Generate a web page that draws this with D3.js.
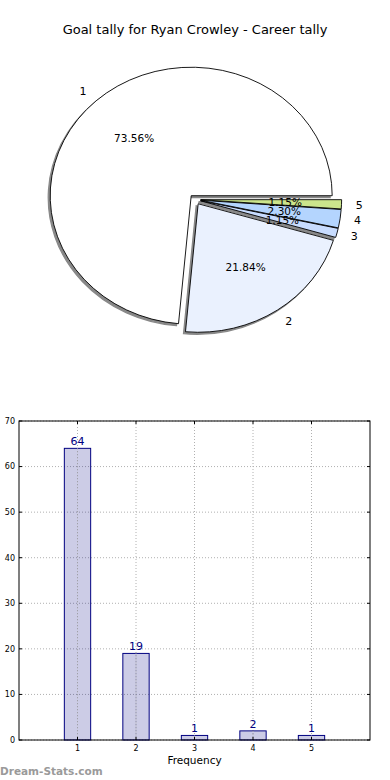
<!DOCTYPE html>
<html><head><meta charset="utf-8">
<script src="https://cdn.jsdelivr.net/npm/d3@7/dist/d3.min.js"></script>
<style>body{margin:0;background:#fff}svg{display:block}text{font-family:"DejaVu Sans",sans-serif}</style>
</head><body><svg id="c" width="390" height="780"></svg>
<script>
const title = "Goal tally for Ryan Crowley - Career tally";
const categories = ["1","2","3","4","5"];
const counts = [64, 19, 1, 2, 1];
const sliceColors = ["#ffffff","#eaf1fe","#c8dcfe","#b4d5fe","#cbe58c"];
const yTicks = [0,10,20,30,40,50,60,70];
const xLabel = "Frequency";
const watermark = "Dream-Stats.com";

const svg = d3.select("#c");
svg.append("text").attr("x",195).attr("y",34).attr("text-anchor","middle")
  .attr("font-size",13).attr("fill","#000").text(title);

// ---- Pie ----
const cx = 195, cy = 199.5, rx = 141, ry = 128.5, explode = 0.04;
const total = d3.sum(counts);
const pie = d3.pie().sort(null).startAngle(Math.PI/2).endAngle(Math.PI/2 - 2*Math.PI);
const arcs = pie(counts);
const arc = d3.arc().innerRadius(0).outerRadius(1);
const pg = svg.append("g");
const shadowG = pg.append("g"), sliceG = pg.append("g"), textG = pg.append("g");
arcs.forEach((a,i)=>{
  const m = (a.startAngle + a.endAngle)/2;
  const ox = cx + explode*rx*Math.sin(m), oy = cy - explode*ry*Math.cos(m);
  shadowG.append("path").attr("d", arc(a))
    .attr("transform",`translate(${ox-2},${oy+2}) scale(${rx},${ry})`)
    .attr("fill","#888").attr("stroke","#888").attr("stroke-width",1.2)
    .attr("vector-effect","non-scaling-stroke");
  sliceG.append("path").attr("d", arc(a))
    .attr("transform",`translate(${ox},${oy}) scale(${rx},${ry})`)
    .attr("fill",sliceColors[i]).attr("stroke","#000").attr("stroke-width",0.9)
    .attr("stroke-linejoin","round")
    .attr("vector-effect","non-scaling-stroke");
  const lx = ox + 1.1*rx*Math.sin(m), ly = oy - 1.1*ry*Math.cos(m);
  textG.append("text").attr("x",lx).attr("y",ly).attr("dy","0.35em")
    .attr("text-anchor", Math.sin(m)>0 ? "start":"end")
    .attr("font-size",11).text(categories[i]);
  const px = ox + 0.6*rx*Math.sin(m), py = oy - 0.6*ry*Math.cos(m);
  textG.append("text").attr("x",px).attr("y",py).attr("dy","0.35em")
    .attr("text-anchor","middle").attr("font-size",10.5)
    .text((counts[i]/total*100).toFixed(2)+"%");
});

// ---- Bar chart ----
const L = 19, R = 370, T = 421, B = 740;
const x = d3.scaleLinear().domain([0,6]).range([L,R]);
const y = d3.scaleLinear().domain([0,70]).range([B,T]);
const bg = svg.append("g");
yTicks.forEach(t=>{
  bg.append("line").attr("x1",L).attr("x2",R).attr("y1",y(t)).attr("y2",y(t))
    .attr("stroke","#b0b0b0").attr("stroke-width",1).attr("stroke-dasharray","1,2");
});
categories.forEach((c,i)=>{
  bg.append("line").attr("x1",x(i+1)).attr("x2",x(i+1)).attr("y1",T).attr("y2",B)
    .attr("stroke","#b0b0b0").attr("stroke-width",1).attr("stroke-dasharray","1,2");
});
const bw = 0.45;
categories.forEach((c,i)=>{
  const v = counts[i];
  bg.append("rect").attr("x",x(i+1-bw/2)).attr("width",x(bw)-x(0))
    .attr("y",y(v)).attr("height",y(0)-y(v))
    .attr("fill","rgba(0,0,128,0.2)").attr("stroke","#000080").attr("stroke-width",1);
  bg.append("line").attr("x1",x(i+1)).attr("x2",x(i+1)).attr("y1",y(v)).attr("y2",B)
    .attr("stroke","#aaaaaa").attr("stroke-width",1).attr("stroke-dasharray","1,2");
  bg.append("text").attr("x",x(i+1)).attr("y",y(v)-3).attr("text-anchor","middle")
    .attr("font-size",11).attr("fill","#000080").text(v);
});
bg.append("rect").attr("x",L).attr("y",T).attr("width",R-L).attr("height",B-T)
  .attr("fill","none").attr("stroke","#000").attr("stroke-width",1);
yTicks.forEach(t=>{
  bg.append("line").attr("x1",L).attr("x2",L+3).attr("y1",y(t)).attr("y2",y(t)).attr("stroke","#000");
  bg.append("line").attr("x1",R-3).attr("x2",R).attr("y1",y(t)).attr("y2",y(t)).attr("stroke","#000");
  bg.append("text").attr("x",L-4).attr("y",y(t)).attr("dy","0.35em").attr("text-anchor","end")
    .attr("font-size",8).attr("fill","#000").text(t);
});
categories.forEach((c,i)=>{
  bg.append("line").attr("x1",x(i+1)).attr("x2",x(i+1)).attr("y1",B-3).attr("y2",B).attr("stroke","#000");
  bg.append("line").attr("x1",x(i+1)).attr("x2",x(i+1)).attr("y1",T).attr("y2",T+3).attr("stroke","#000");
  bg.append("text").attr("x",x(i+1)).attr("y",B+11).attr("text-anchor","middle")
    .attr("font-size",8).attr("fill","#000").text(c);
});
bg.append("text").attr("x",(L+R)/2).attr("y",764).attr("text-anchor","middle")
  .attr("font-size",10.5).attr("fill","#000").text(xLabel);
svg.append("text").attr("x",0).attr("y",775).attr("font-size",10.5).attr("font-weight","bold")
  .attr("fill","#9a9a9a").text(watermark);
</script></body></html>
